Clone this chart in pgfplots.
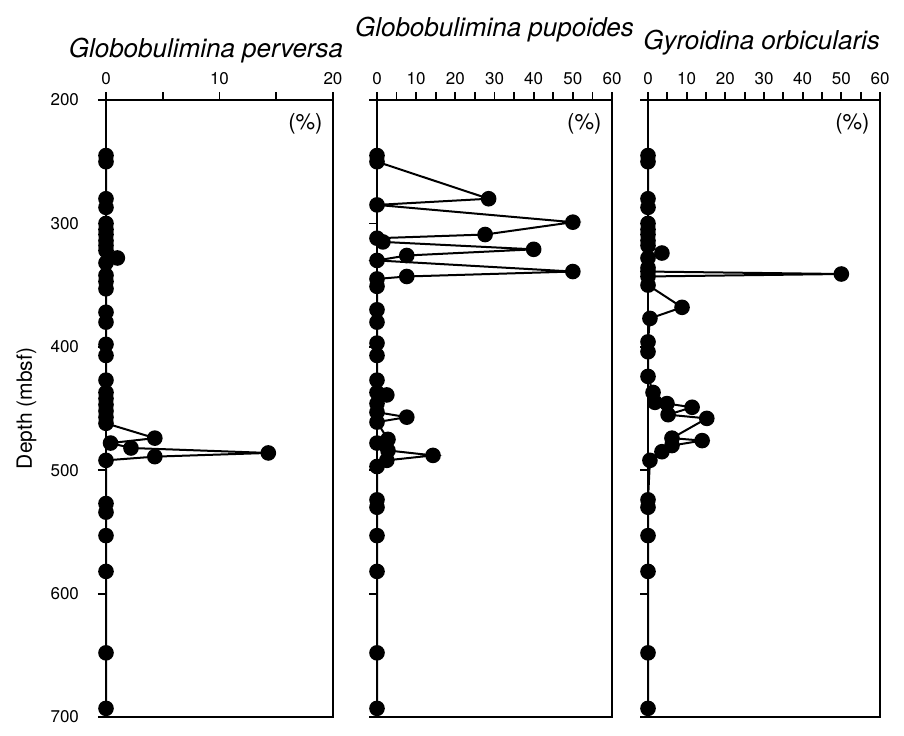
\documentclass[border=0pt]{standalone}
\usepackage{fontspec}
\setmainfont{TeX Gyre Heros}
\usepackage{pgfplots}
\pgfplotsset{compat=1.18}

% common look of the three depth panels
\pgfplotsset{
  panel/.style={
    scale only axis,
    anchor=south west,
    height=308.5pt,
    y dir=reverse,
    ymin=200, ymax=700,
    xmin=0,
    axis line style={line width=1.3pt},
    every tick/.style={line width=0.9pt, black},
    tick align=outside,
    major tick length=4pt,
    minor tick length=4pt,
    xtick pos=right,
    xticklabel pos=right,
    ytick={200,300,...,700},
    ytick pos=left,
    tick label style={font=\fontsize{8.5}{10}\selectfont},
    yticklabel style={xshift=-6pt},
    /pgf/number format/assume math mode=true,
    clip=false,
  },
  series/.style={black, line width=1pt, mark=*, mark size=3.4pt,
    mark options={fill=black, solid}},
}
\tikzset{
  pct/.style={font=\fontsize{11}{13}\selectfont, anchor=north east},
  ttl/.style={font=\itshape\fontsize{13}{15}\selectfont},
}

\begin{document}
\begin{tikzpicture}
\useasboundingbox (0,0) rectangle (452pt,367.5pt);

% Globobulimina perversa
\begin{axis}[panel, at={(53pt,9pt)}, width=113.5pt,
  xmax=20, xtick={0,10,20}, minor xtick={5,15}]
\addplot[series] coordinates {
(0,245) (0,250) (0,280) (0,287) (0,300) (0,305) (0,309) (0,314) (0,318)
(0,322) (1.0,328) (0,332) (0,342) (0,347) (0,353) (0,372) (0,380) (0,398)
(0,407) (0,427) (0,437) (0,442) (0,447) (0,452) (0,457) (0,462)
(4.3,474) (0.4,478) (2.2,482) (14.3,486) (4.3,489) (0,492)
(0,527) (0,534) (0,553) (0,582) (0,648) (0,693)
};
\node[pct] at (axis description cs:0.985,0.99) {(\%)};
\node[ttl] at (axis description cs:0.44,1.08) {Globobulimina perversa};
\node[rotate=90, font=\fontsize{10.5}{12}\selectfont]
  at (axis description cs:-0.35,0.5) {Depth (mbsf)};
\end{axis}

% Globobulimina pupoides
\begin{axis}[panel, at={(188.5pt,9pt)}, width=117.5pt,
  xmax=60, xtick={0,10,...,60}, minor xtick={5,15,...,55},
  yticklabels={}]
\addplot[series] coordinates {
(0,245) (0,250) (28.5,280) (0,285) (50,299) (27.6,309) (0,312) (1.5,315)
(40,321) (7.6,326) (0,330) (50,339) (7.6,343) (0,345) (0,351)
(0,370) (0,380) (0,397) (0,407) (0,427) (0,437) (2.5,439) (0,446)
(0,453) (7.6,457) (0,461) (2.8,475) (0,478) (2.8,484) (14.3,488)
(2.5,492) (0,497) (0,524) (0,530) (0,553) (0,582) (0,648) (0,693)
};
\node[pct] at (axis description cs:0.985,0.99) {(\%)};
\node[ttl] at (axis description cs:0.5,1.115) {Globobulimina pupoides};
\end{axis}

% Gyroidina orbicularis
\begin{axis}[panel, at={(324pt,9pt)}, width=116pt,
  xmax=60, xtick={0,10,...,60}, minor xtick={5,15,...,55},
  yticklabels={}]
\addplot[series] coordinates {
(0,245) (0,250) (0,280) (0,287) (0,300) (0,305) (0,309) (0,314) (0,318)
(3.6,324) (0,328) (0,336) (0,339) (50,341) (0,343) (0,350) (8.8,368)
(0.5,377) (0,396) (0,404) (0,424) (1.3,437) (1.8,445) (4.9,446)
(11.4,449) (5.2,455) (15.2,458) (6.2,474) (14,476) (6.2,480) (3.6,485)
(0.5,492) (0,524) (0,530) (0,553) (0,582) (0,648) (0,693)
};
\node[pct] at (axis description cs:0.985,0.99) {(\%)};
\node[ttl] at (axis description cs:0.49,1.093) {Gyroidina orbicularis};
\end{axis}
\end{tikzpicture}
\end{document}
